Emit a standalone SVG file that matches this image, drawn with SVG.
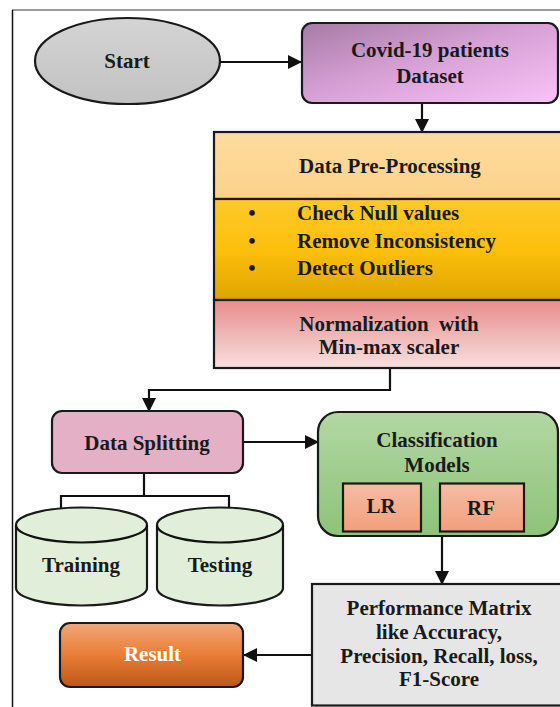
<svg xmlns="http://www.w3.org/2000/svg" width="560" height="707" viewBox="0 0 560 707">
<defs>
<style>
text{font-family:"Liberation Serif","Times New Roman",serif;font-weight:bold;font-size:21px;fill:#1a1a1a;text-anchor:middle}
.b{stroke:#1a1a1a;stroke-width:2.2}
.c{fill:none;stroke:#111;stroke-width:2.2}
.l{text-anchor:start}
</style>
<marker id="ah" markerUnits="userSpaceOnUse" markerWidth="14" markerHeight="14" refX="13" refY="7" orient="auto">
<path d="M0,0 L14,7 L0,14 z" fill="#111"/>
</marker>
<linearGradient id="gStart" x1="0" y1="0" x2="0" y2="1"><stop offset="0" stop-color="#d4d4d4"/><stop offset="1" stop-color="#c2c2c2"/></linearGradient>
<linearGradient id="gCovid" x1="0" y1="0" x2="1" y2="1"><stop offset="0" stop-color="#a67ba4"/><stop offset="0.45" stop-color="#d59fd3"/><stop offset="1" stop-color="#f9c3f8"/></linearGradient>
<linearGradient id="gPre1" x1="0" y1="0" x2="0" y2="1"><stop offset="0" stop-color="#fedc9e"/><stop offset="1" stop-color="#fcd28a"/></linearGradient>
<linearGradient id="gPre2" x1="0" y1="0" x2="0" y2="1"><stop offset="0" stop-color="#ffc92c"/><stop offset="0.5" stop-color="#fcbf0c"/><stop offset="1" stop-color="#dea600"/></linearGradient>
<linearGradient id="gNorm" x1="0" y1="0" x2="0" y2="1"><stop offset="0" stop-color="#e88c8c"/><stop offset="1" stop-color="#f7dfdf"/></linearGradient>
<linearGradient id="gClass" x1="0" y1="0" x2="0" y2="1"><stop offset="0" stop-color="#b3d7a3"/><stop offset="1" stop-color="#8dc37a"/></linearGradient>
<linearGradient id="gModel" x1="0" y1="0" x2="0" y2="1"><stop offset="0" stop-color="#f6bca5"/><stop offset="1" stop-color="#f29f7c"/></linearGradient>
<linearGradient id="gRes" x1="0" y1="0" x2="0" y2="1"><stop offset="0" stop-color="#f2a878"/><stop offset="0.5" stop-color="#e97d36"/><stop offset="1" stop-color="#bd5716"/></linearGradient>
</defs>
<rect width="560" height="707" fill="#fff"/>
<g id="frame">
<line x1="12" y1="10" x2="560" y2="10" stroke="#7a7a7a" stroke-width="1.5"/>
<line x1="12.5" y1="10" x2="12.5" y2="707" stroke="#111" stroke-width="1.5"/>
</g>
<g id="connectors">
<line class="c" x1="220" y1="62" x2="301" y2="62" marker-end="url(#ah)"/>
<line class="c" x1="422" y1="103" x2="422" y2="132" marker-end="url(#ah)"/>
<path class="c" d="M390,368 V390 H149 V411" marker-end="url(#ah)"/>
<line class="c" x1="243" y1="442" x2="318" y2="442" marker-end="url(#ah)"/>
<path class="c" d="M144,473 V496 M61,508 V496 H229 V508"/>
<line class="c" x1="442" y1="536" x2="442" y2="584" marker-end="url(#ah)"/>
<line class="c" x1="312" y1="655" x2="244" y2="655" marker-end="url(#ah)"/>
</g>
<g id="start">
<ellipse class="b" cx="127.5" cy="61" rx="92.5" ry="43" fill="url(#gStart)"/>
<text x="127" y="68">Start</text>
</g>
<g id="dataset">
<rect class="b" x="302" y="23" width="256" height="80" rx="10" fill="url(#gCovid)"/>
<text x="430" y="57">Covid-19 patients</text>
<text x="430" y="83">Dataset</text>
</g>
<g id="preprocessing">
<rect class="b" x="214" y="132" width="352" height="67" fill="url(#gPre1)"/>
<rect class="b" x="214" y="199" width="352" height="101" fill="url(#gPre2)"/>
<text x="390" y="173">Data Pre-Processing</text>
<text x="252" y="220">•</text>
<text x="252" y="248">•</text>
<text x="252" y="275">•</text>
<text class="l" x="297" y="220">Check Null values</text>
<text class="l" x="297" y="248">Remove Inconsistency</text>
<text class="l" x="297" y="275">Detect Outliers</text>
</g>
<g id="normalization">
<rect class="b" x="214" y="300" width="352" height="68" fill="url(#gNorm)"/>
<text x="389" y="331" word-spacing="5">Normalization with</text>
<text x="389" y="354">Min-max scaler</text>
</g>
<g id="splitting">
<rect class="b" x="52" y="411" width="191" height="62" rx="10" fill="#e3b0c5"/>
<text x="147" y="450">Data Splitting</text>
</g>
<g id="training">
<path class="b" d="M16,525 A65.5,17.5 0 0 1 147,525 V588 A65.5,17.5 0 0 1 16,588 Z" fill="#e1eed9"/>
<path class="c" d="M16,525 A65.5,17.5 0 0 0 147,525"/>
<text x="81" y="572">Training</text>
</g>
<g id="testing">
<path class="b" d="M157,525 A63,17.5 0 0 1 283,525 V588 A63,17.5 0 0 1 157,588 Z" fill="#e1eed9"/>
<path class="c" d="M157,525 A63,17.5 0 0 0 283,525"/>
<text x="220" y="572">Testing</text>
</g>
<g id="classification">
<rect class="b" x="318" y="412" width="240" height="124" rx="20" fill="url(#gClass)"/>
<text x="437" y="447">Classification</text>
<text x="437" y="472">Models</text>
</g>
<g id="lr">
<rect class="b" x="343" y="483.5" width="78" height="48" fill="url(#gModel)"/>
<text x="381" y="513">LR</text>
</g>
<g id="rf">
<rect class="b" x="440" y="483.5" width="84" height="48" fill="url(#gModel)"/>
<text x="481" y="515">RF</text>
</g>
<g id="performance">
<rect class="b" x="312" y="584" width="254" height="121.5" fill="#e6e6e6"/>
<text x="439" y="615">Performance Matrix</text>
<text x="439" y="639">like Accuracy,</text>
<text x="439" y="663">Precision, Recall, loss,</text>
<text x="439" y="686">F1-Score</text>
</g>
<g id="result">
<rect class="b" x="60" y="623" width="183" height="64" rx="10" fill="url(#gRes)"/>
<text x="152.5" y="661" style="fill:#fff">Result</text>
</g>
</svg>
